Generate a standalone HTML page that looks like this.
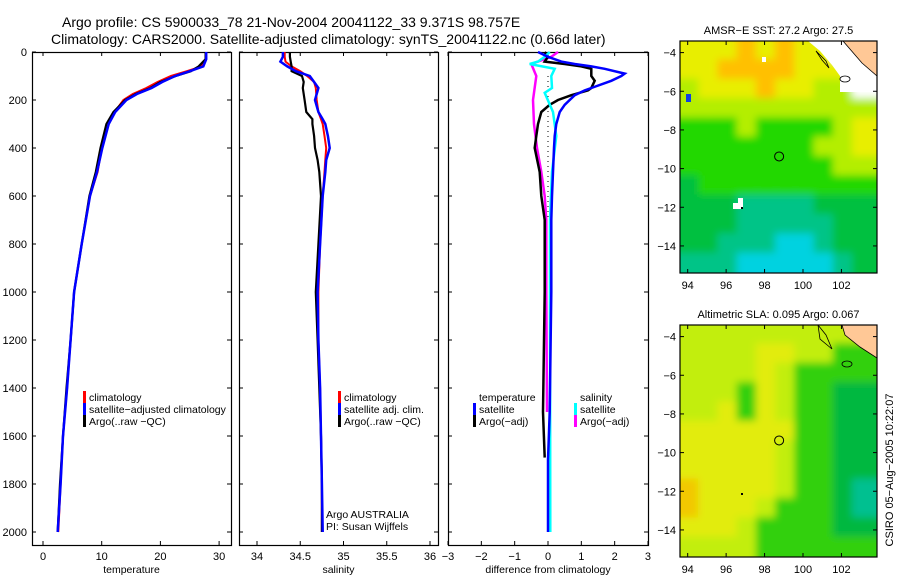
<!DOCTYPE html>
<html><head><meta charset="utf-8">
<style>
html,body{margin:0;padding:0;background:#fff;}
svg{display:block;font-family:"Liberation Sans",sans-serif;}
</style></head>
<body>
<svg id="fig" width="900" height="580" viewBox="0 0 900 580">
<defs>
<clipPath id="c1"><rect x="680" y="41" width="197" height="232"/></clipPath>
<clipPath id="c2"><rect x="680" y="325" width="197" height="232"/></clipPath>
<filter id="bl" filterUnits="userSpaceOnUse" x="660" y="0" width="240" height="580"><feGaussianBlur stdDeviation="4"/></filter>
</defs>
<text x="62" y="27" font-size="14">Argo profile: CS 5900033_78 21-Nov-2004 20041122_33 9.371S 98.757E</text>
<text x="51" y="44" font-size="14">Climatology: CARS2000. Satellite-adjusted climatology: synTS_20041122.nc (0.66d later)</text>
<g id="g"></g>
</svg>
<script>
// ---------- data ----------
const depthTicks = [0,200,400,600,800,1000,1200,1400,1600,1800,2000];
const tempTicks = [0,10,20,30];
const salTicks = [34,34.5,35,35.5,36];
const salTickLabels = ["34","34.5","35","35.5","36"];
const diffTicks = [-3,-2,-1,0,1,2,3];
const diffTickLabels = ["\u22123","\u22122","\u22121","0","1","2","3"];

const tDepth = [0,30,60,80,100,125,150,175,200,250,300,400,500,600,800,1000,1200,1400,1600,1800,2000];
const tClim  = [27.7,27.7,27.0,24.5,21.8,19.5,17.6,15.3,13.7,12.2,11.2,10.0,9.3,8.0,6.6,5.3,4.7,4.1,3.4,3.0,2.6];
const tSat   = [27.8,27.8,27.3,25.0,22.5,20.3,18.5,16.0,14.2,12.3,11.2,10.1,9.2,8.0,6.6,5.3,4.7,4.1,3.4,3.0,2.5];
const tArgo  = [27.7,27.7,26.5,25.2,22.6,20.0,18.3,15.8,14.0,12.0,10.8,9.8,9.0,7.9,6.6,5.3,4.7,4.0,3.4,2.9,2.5];

const sDepth = [0,20,40,60,80,100,125,150,200,250,280,300,350,400,450,500,600,800,1000,1200,1400,1600,1800,2000];
const sClim  = [34.32,34.32,34.33,34.40,34.50,34.58,34.66,34.68,34.69,34.71,34.74,34.76,34.78,34.80,34.79,34.78,34.76,34.73,34.71,34.71,34.73,34.74,34.75,34.75];
const sSat   = [34.30,34.30,34.27,34.35,34.45,34.61,34.66,34.71,34.67,34.71,34.76,34.79,34.82,34.84,34.80,34.79,34.76,34.73,34.70,34.71,34.73,34.74,34.75,34.76];
const sArgo  = [34.38,34.38,34.39,34.40,34.40,34.52,34.54,34.53,34.55,34.57,34.64,34.64,34.66,34.67,34.70,34.72,34.74,34.71,34.68,34.70,34.72,34.74,34.75,34.75];

const dtSatDepth = [0,20,40,50,60,70,90,100,120,150,160,180,200,220,250,300,350,400,500,600,700,1000,1500,1700,2000];
const dtSat      = [-0.3,0.0,0.4,0.8,1.3,1.7,2.3,2.2,1.9,1.3,1.1,0.8,0.65,0.5,0.35,0.25,0.2,0.18,0.15,0.12,0.1,0.1,0.05,0.0,0.0];
const dtArgoDepth = [0,20,40,50,60,70,90,100,120,150,160,180,200,220,250,300,350,400,500,600,700,1000,1500,1690];
const dtArgo      = [-0.1,0.0,-0.1,0.5,1.0,1.3,1.3,1.3,1.4,1.3,1.2,0.7,0.3,0.05,-0.2,-0.3,-0.35,-0.4,-0.25,-0.2,-0.1,-0.1,-0.15,-0.1];
const dsArgoDepth = [0,20,50,100,200,300,400,500,600,700,1000,1500];
const dsArgo      = [0.3,0.1,-0.5,-0.35,-0.45,-0.42,-0.33,-0.2,-0.1,-0.05,-0.05,-0.03];
const dsSatDepth = [0,20,40,50,70,100,150,170,250,350,500,700,1000,2000];
const dsSat      = [0.05,-0.1,-0.3,-0.55,0.2,0.1,0.12,-0.1,0.15,0.25,0.12,0.06,0.06,0.07];

const lonTicks = [94,96,98,100,102];
const latTicks = [-4,-6,-8,-10,-12,-14];
// map grids: 1-degree cells, rows from lat -3.4 southward, cols from lon 93.6 eastward
const sstGrid = [
 "YYYOYOYYWW","YYOOOOYYYW","LYYYOYYLLW","LLLLLLLLLL","GGGLGGGGLY","GGGGGGGLLY",
 "GGGGGGGGLL","MGGGGGGGGG","MMMTTTTMMM","MMMTTTTTMM","MMTTTCCTMM","TTTCCCCCTM"];
const slaGrid = [
 "LLLLLLLLLL","LLLLYYLLGG","LLLLYLGGGG","LLLGYLGGMM","LLYGYLGGMM","YYYYYYGGMM",
 "YYYYYLGGMM","YYYYYLGGMM","OYYYYLGGMT","OYYYLGGGMT","YYYLGGGGMM","LLLLGGGGGG"];
const sstColors = {O:"#ffc000",Y:"#e8ee00",L:"#b4ee00",G:"#22d800",M:"#00c040",T:"#00c487",C:"#00d2e0",W:"#ffffff"};
const slaColors = {O:"#f2c800",Y:"#e2ec10",L:"#c2ee10",G:"#30d010",M:"#00b840",T:"#00c090",C:"#00d2e0",W:"#ffffff"};
const argoLon = 98.757, argoLat = -9.371;

// ---------- helpers ----------
const NS="http://www.w3.org/2000/svg";
const G=document.getElementById('g');
function el(tag,attrs,parent){const e=document.createElementNS(NS,tag);for(const k in attrs)e.setAttribute(k,attrs[k]);(parent||G).appendChild(e);return e;}
const Y0=52, Y1=532, BOT=545;
function yD(d){return Y0+(Y1-Y0)*d/2000;}

function panel(name,x0,x1,fx,ticks,labels,title){
  const g=el('g',{});
  
  
  const fr=el('rect',{x:x0+.5,y:Y0+.5,width:x1-x0,height:BOT-Y0,fill:'none',stroke:'#000','stroke-width':1.2},g);
  
  
  depthTicks.forEach(d=>{
    const y=yD(d);
    el('line',{x1:x0,x2:x0+4,y1:y,y2:y,stroke:'#000'},g);
    el('line',{x1:x1-4,x2:x1,y1:y,y2:y,stroke:'#000'},g);
  });
  ticks.forEach((t,i)=>{
    const x=fx(t);
    el('line',{x1:x,x2:x,y1:Y0,y2:Y0+4,stroke:'#000'},g);
    el('line',{x1:x,x2:x,y1:BOT-4,y2:BOT,stroke:'#000'},g);
    const tx=el('text',{x:x,y:560,'font-size':11,'text-anchor':'middle'},g);
    tx.textContent=labels[i];
    
    
  });
  const tt=el('text',{x:(x0+x1)/2,y:573,'font-size':10.5,'text-anchor':'middle'},g);
  tt.textContent=title;
  
  
  return g;
}
function series(name,depths,vals,fx,color,w,g,dash){
  const pts=depths.map((d,i)=>fx(vals[i]).toFixed(1)+','+yD(d).toFixed(1)).join(' ');
  const p=el('polyline',{points:pts,fill:'none',stroke:color,'stroke-width':w,'stroke-linejoin':'miter'},g);
  if(dash)p.setAttribute('stroke-dasharray',dash);
  
  
}
function legend(g,x,y,items){
  items.forEach((it,i)=>{
    const yy=y+i*12;
    if(it[1]) el('rect',{x:x,y:yy-9,width:3,height:12,fill:it[1]},g);
    const t=el('text',{x:x+6,y:yy+1,'font-size':10.5},g);
    t.textContent=it[0];
    
    
  });
}

// y tick labels (depth)
depthTicks.forEach(d=>{
  const t=el('text',{x:27,y:yD(d)+4,'font-size':11,'text-anchor':'end'});
  t.textContent=d;
  
  
});

// panel 1 temperature
const fT=v=>43+v*5.87;
const p1=panel('temperature-panel',32,231,fT,tempTicks,tempTicks.map(String),'temperature');
series('temp-climatology-line',tDepth,tClim,fT,'#ff0000',2,p1);
series('temp-argo-line',tDepth,tArgo,fT,'#000000',2.2,p1);
series('temp-satellite-line',tDepth,tSat,fT,'#0000ff',2.5,p1);
legend(p1,83,400,[['climatology','#ff0000'],['satellite\u2212adjusted climatology','#0000ff'],['Argo(..raw \u2212QC)','#000000']]);

// panel 2 salinity
const fS=v=>257+(v-34)*86.5;
const p2=panel('salinity-panel',239,438,fS,salTicks,salTickLabels,'salinity');
series('sal-climatology-line',sDepth,sClim,fS,'#ff0000',2,p2);
series('sal-argo-line',sDepth,sArgo,fS,'#000000',2.2,p2);
series('sal-satellite-line',sDepth,sSat,fS,'#0000ff',2.5,p2);
legend(p2,338,400,[['climatology','#ff0000'],['satellite adj. clim.','#0000ff'],['Argo(..raw \u2212QC)','#000000']]);
const a1=el('text',{x:326,y:518,'font-size':10.5},p2);a1.textContent='Argo AUSTRALIA';


const a2=el('text',{x:326,y:530,'font-size':10.5},p2);a2.textContent='PI: Susan Wijffels';



// panel 3 differences
const fD=v=>548+v*33.33;
const p3=panel('difference-panel',448,648,fD,diffTicks,diffTickLabels,'difference from climatology');
const zl=el('line',{x1:fD(0),x2:fD(0),y1:yD(100),y2:yD(700),stroke:'#000','stroke-dasharray':'1,4'},p3);


series('diff-sal-argo-line',dsArgoDepth,dsArgo,fD,'#ff00ff',2.5,p3);
series('diff-temp-argo-line',dtArgoDepth,dtArgo,fD,'#000000',2.5,p3);
series('diff-sal-satellite-line',dsSatDepth,dsSat,fD,'#00ffff',2.5,p3);
series('diff-temp-satellite-line',dtSatDepth,dtSat,fD,'#0000ff',2.5,p3);
legend(p3,473,400,[['temperature',null],['satellite','#0000ff'],['Argo(\u2212adj)','#000000']]);
legend(p3,574,400,[['salinity',null],['satellite','#00ffff'],['Argo(\u2212adj)','#ff00ff']]);

// maps
function map(name,y0,grid,colors,title,clip,land){
  const x0=680,w=197,h=232,lonL=93.6,lonR=103.85,latT=-3.4,latB=-15.4;
  const fx=l=>x0+(l-lonL)/(lonR-lonL)*w, fy=l=>y0+(latT-l)/(latT-latB)*h;
  const g=el('g',{});
  
  
  const ig=el('g',{'clip-path':'url(#'+clip+')'},g);
  const bg=el('g',{filter:'url(#bl)'},ig);
  grid.forEach((row,r)=>{ [...row].forEach((c,k)=>{
    const cw=w/10, ch=h/12;
    const x=fx(lonL+k), y=fy(latT-r);
    // extend edge cells outward so blur does not fade at borders
    const ex0=k===0?12:0, ey0=r===0?12:0, ex1=k===row.length-1?12:0, ey1=r===grid.length-1?12:0;
    const cell=el('rect',{x:x-ex0-1,y:y-ey0-1,width:cw+ex0+ex1+2,height:ch+ey0+ey1+2,fill:colors[c]},bg);
    
    
  });});
  land(ig,x0,y0);
  const fr=el('rect',{x:x0,y:y0,width:w,height:h,fill:'none',stroke:'#000','stroke-width':1.2},g);
  
  
  lonTicks.forEach(l=>{const x=fx(l);
    el('line',{x1:x,x2:x,y1:y0,y2:y0+4,stroke:'#000'},g);el('line',{x1:x,x2:x,y1:y0+h-4,y2:y0+h,stroke:'#000'},g);
    const t=el('text',{x:x,y:y0+h+16,'font-size':11,'text-anchor':'middle'},g);t.textContent=l;
    
    });
  latTicks.forEach(l=>{const y=fy(l);
    el('line',{x1:x0,x2:x0+4,y1:y,y2:y,stroke:'#000'},g);el('line',{x1:x0+w-4,x2:x0+w,y1:y,y2:y,stroke:'#000'},g);
    const t=el('text',{x:x0-4,y:y+4,'font-size':11,'text-anchor':'end'},g);t.textContent='\u2212'+(-l);
    
    });
  const c=el('circle',{cx:fx(argoLon),cy:fy(argoLat),r:4.5,fill:'none',stroke:'#000','stroke-width':1},g);
  
  
  const t=el('text',{x:x0+w/2,y:y0-7,'font-size':11,'text-anchor':'middle'},g);t.textContent=title;
  
  
}
map('sst-map',41,sstGrid,sstColors,'AMSR\u2212E SST: 27.2 Argo: 27.5','c1',(g,x0,y0)=>{
  el('polygon',{points:`808,${y0} 877,${y0} 877,${y0+51} 840,${y0+51} 840,${y0+35} 832,${y0+24} 820,${y0+10}`,fill:'#fff'},g);
  el('polygon',{points:`843,${y0} 877,${y0} 877,${y0+35} 862,${y0+22}`,fill:'#ffc896',stroke:'#000','stroke-width':0.8},g);
  el('polygon',{points:`816,${y0+10} 826,${y0+20} 829,${y0+27} 822,${y0+19}`,fill:'none',stroke:'#000','stroke-width':0.8},g);
  el('ellipse',{cx:845,cy:y0+38,rx:5,ry:3,fill:'none',stroke:'#000','stroke-width':0.8},g);
  el('rect',{x:733,y:y0+162,width:10,height:6,fill:'#fff'},g);
  el('rect',{x:738,y:y0+157,width:5,height:5,fill:'#fff'},g);
  el('rect',{x:741,y:y0+166,width:2,height:2,fill:'#000'},g);
  el('rect',{x:686,y:y0+53,width:5,height:8,fill:'#1040e0'},g);
  el('rect',{x:762,y:y0+16,width:4,height:5,fill:'#fff'},g);
});
map('sla-map',325,slaGrid,slaColors,'Altimetric SLA: 0.095 Argo: 0.067','c2',(g,x0,y0)=>{
  el('polygon',{points:`842,${y0} 877,${y0} 877,${y0+33} 860,${y0+22} 845,${y0+10}`,fill:'#ffc896',stroke:'#000','stroke-width':0.8},g);
  el('polygon',{points:`818,${y0} 826,${y0+10} 832,${y0+24} 820,${y0+14}`,fill:'none',stroke:'#000','stroke-width':0.8},g);
  el('ellipse',{cx:847,cy:y0+39,rx:5,ry:3,fill:'none',stroke:'#000','stroke-width':0.8},g);
  el('rect',{x:741,y:y0+168,width:2,height:2,fill:'#000'},g);
});
const cs=el('text',{x:0,y:0,'font-size':11,'text-anchor':'middle',transform:'translate(893,470) rotate(-90)'});
cs.textContent='CSIRO 05\u2212Aug\u22122005 10:22:07';


</script>
</body></html>
